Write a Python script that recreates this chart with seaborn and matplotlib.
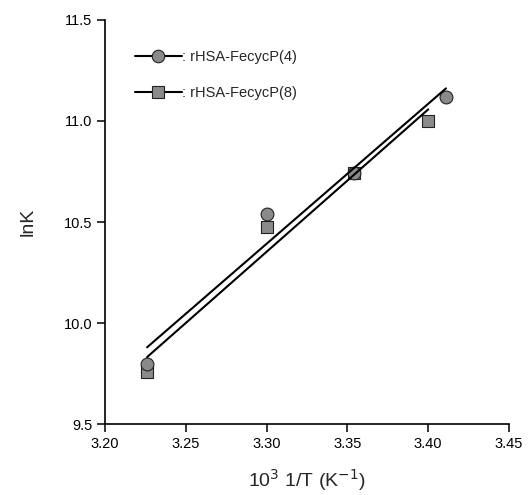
import numpy as np
import seaborn as sns
import matplotlib.pyplot as plt
from matplotlib.lines import Line2D

# 10^3 1/T values and lnK for the two proteins
x_p4 = [3.226, 3.300, 3.354, 3.411]
lnk_p4 = [9.80, 10.54, 10.74, 11.12]

x_p8 = [3.226, 3.300, 3.354, 3.400]
lnk_p8 = [9.76, 10.475, 10.74, 11.00]

labels = [': rHSA-FecycP(4)', ': rHSA-FecycP(8)']
xticks = [3.20, 3.25, 3.30, 3.35, 3.40, 3.45]
yticks = [9.5, 10.0, 10.5, 11.0, 11.5]

sns.set_style('ticks')
plt.rcParams['font.family'] = ['Liberation Sans', 'DejaVu Sans']

fig = plt.figure(figsize=(5.28, 4.95), dpi=100)
ax = fig.add_axes([0.199, 0.143, 0.765, 0.817])

fill = '#8a8a8a'

sns.regplot(x=x_p8, y=lnk_p8, ax=ax, ci=None, truncate=True,
            marker='s',
            scatter_kws=dict(s=70, color=fill, edgecolors='#222222', linewidths=0.8, alpha=1, zorder=3),
            line_kws=dict(color='black', lw=1.5, zorder=4))
sns.regplot(x=x_p4, y=lnk_p4, ax=ax, ci=None, truncate=True,
            marker='o',
            scatter_kws=dict(s=85, color=fill, edgecolors='#222222', linewidths=0.8, alpha=1, zorder=3),
            line_kws=dict(color='black', lw=1.5, zorder=4))

ax.set_xlim(3.20, 3.45)
ax.set_ylim(9.5, 11.5)
ax.set_xticks(xticks, labels=[f'{v:.2f}' for v in xticks])
ax.set_yticks(yticks, labels=[f'{v:.1f}' for v in yticks])
ax.tick_params(direction='out', length=6, width=1.1, labelsize=10.5, colors='black', pad=3)
for s in ['left', 'bottom']:
    ax.spines[s].set_linewidth(1.2)
    ax.spines[s].set_color('black')
sns.despine(ax=ax)

ax.set_xlabel('10$^{3}$ 1/T (K$^{-1}$)', fontsize=14, labelpad=12)
ax.set_ylabel('lnK', fontsize=14, labelpad=20)

handles = [
    Line2D([], [], color='black', lw=1.5, marker='o', markersize=9,
           markerfacecolor=fill, markeredgecolor='#222222', markeredgewidth=0.8),
    Line2D([], [], color='black', lw=1.5, marker='s', markersize=8,
           markerfacecolor=fill, markeredgecolor='#222222', markeredgewidth=0.8),
]
ax.legend(handles, labels, loc='upper left', bbox_to_anchor=(0.06, 0.94),
          frameon=False, fontsize=10.5, handlelength=3.2, handletextpad=0.0,
          labelspacing=1.5, borderaxespad=0)

fig.savefig('out.png', dpi=100)
